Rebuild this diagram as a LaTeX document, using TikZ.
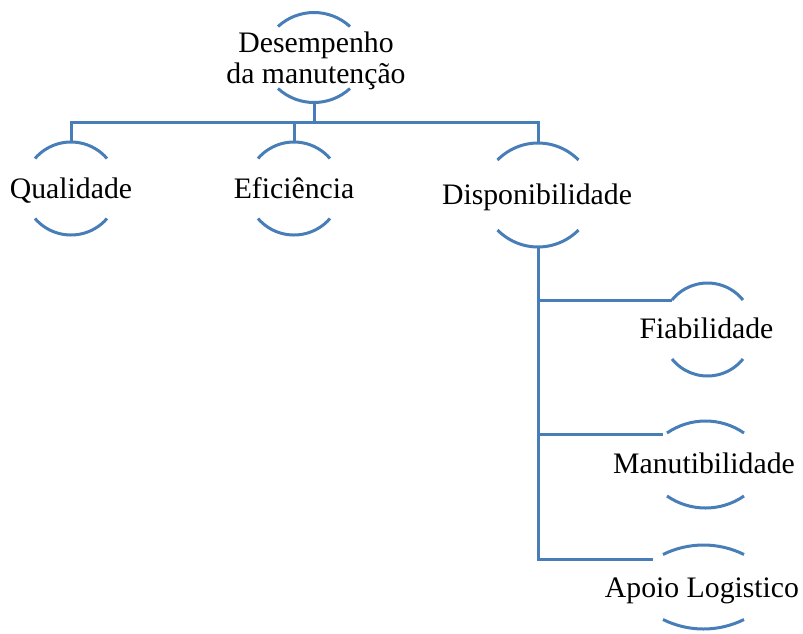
\documentclass[tikz,border=0pt]{standalone}
\usepackage{fontspec}
\setmainfont{Liberation Serif}
\usetikzlibrary{shapes.geometric,calc}
\definecolor{linkblue}{RGB}{72,126,184}
\tikzset{
  ring/.style={ellipse, draw=none, inner sep=0pt, outer sep=0pt},
  ringline/.style={draw=linkblue, line width=2.25pt},
  link/.style={draw=linkblue, line width=2.25pt},
  lbl/.style={inner sep=0pt, outer sep=0pt, font=\fontsize{22.3}{23.25}\selectfont, align=center}
}
% a ring shown only by its top and bottom arcs
% name, x, y, half height, half chord of each arc, arc depth (px units)
\newcommand\ringnode[6]{%
  \node[ring, minimum width=#5*1.5pt, minimum height=#4*1.5pt] (#1) at (#2,#3) {};
  \pgfmathsetmacro\arcrad{(#5*#5+#6*#6)/(2*#6)}%
  \pgfmathsetmacro\arcang{asin(#5/\arcrad)}%
  \draw[ringline] ($(#1.north)+(-#5,#6)$)
    arc[start angle=90+\arcang, end angle=90-\arcang, radius=\arcrad*0.75pt];
  \draw[ringline] ($(#1.south)+(-#5,-#6)$)
    arc[start angle=270-\arcang, end angle=270+\arcang, radius=\arcrad*0.75pt];}
\begin{document}
\begin{tikzpicture}[x=0.75pt, y=-0.75pt]
  \useasboundingbox (0,0) rectangle (803,633);

  % rings
  \ringnode{top}{314}{57.5}{45}{36}{14}
  \ringnode{q}{71}{188.5}{46.5}{36}{16.5}
  \ringnode{e}{294}{188.5}{46.5}{36}{16.5}
  \ringnode{d}{538}{195}{52}{40.5}{17}
  \ringnode{f}{707.5}{329.5}{46.5}{35.5}{17}
  \ringnode{m}{705.5}{464.5}{43.5}{38.5}{12}
  \ringnode{a}{703.5}{587}{42}{40.5}{9.5}

  % labels
  \node[lbl] (top-t) at (316,60.5) {Desempenho\\da manutenção};
  \node[lbl, anchor=base] (q-t) at (71,198) {Qualidade};
  \node[lbl, anchor=base] (e-t) at (294,198) {Eficiência};
  \node[lbl, anchor=base] (d-t) at (537,204) {Disponibilidade};
  \node[lbl, anchor=base] (f-t) at (706.5,338) {Fiabilidade};
  \node[lbl, anchor=base] (m-t) at (704,473) {Manutibilidade};
  \node[lbl, anchor=base] (a-t) at (702,597) {Apoio Logistico};

  % first level connectors
  \coordinate (bus) at (314,122);
  \draw[link] (top.south) -- (top.south |- bus);
  \draw[link] (q.north) -- (q.north |- bus) -- (d.north |- bus) -- (d.north);
  \draw[link] (e.north) -- (e.north |- bus);

  % branches below Disponibilidade
  \coordinate (f-in) at (672,300);
  \coordinate (m-in) at (663,434);
  \coordinate (a-in) at (653,559);
  \draw[link] (d.south) |- (a-in);
  \draw[link] (d.south |- f-in) -- (f-in);
  \draw[link] (d.south |- m-in) -- (m-in);
\end{tikzpicture}
\end{document}
